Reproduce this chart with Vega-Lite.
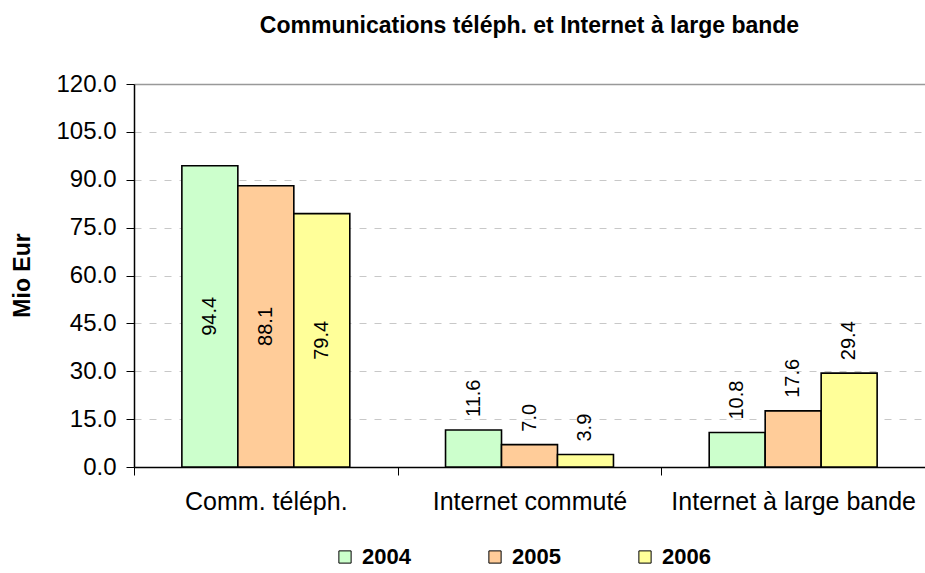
{
  "$schema": "https://vega.github.io/schema/vega-lite/v6.json",
  "width": 791,
  "height": 383,
  "autosize": {"type": "none"},
  "padding": {"left": 134, "top": 84, "right": 0, "bottom": 106},
  "background": "white",
  "config": {"font": "Liberation Sans", "view": {"stroke": null}},
  "title": {
    "text": "Communications téléph. et Internet à large bande",
    "fontSize": 23,
    "fontWeight": "bold",
    "color": "black",
    "anchor": "middle",
    "frame": "group",
    "offset": 34
  },
  "data": {
    "values": [
      {"cat": "Comm. téléph.", "year": "2004", "value": 94.4},
      {"cat": "Comm. téléph.", "year": "2005", "value": 88.1},
      {"cat": "Comm. téléph.", "year": "2006", "value": 79.4},
      {"cat": "Internet commuté", "year": "2004", "value": 11.6},
      {"cat": "Internet commuté", "year": "2005", "value": 7.0},
      {"cat": "Internet commuté", "year": "2006", "value": 3.9},
      {"cat": "Internet à large bande", "year": "2004", "value": 10.8},
      {"cat": "Internet à large bande", "year": "2005", "value": 17.6},
      {"cat": "Internet à large bande", "year": "2006", "value": 29.4}
    ]
  },
  "encoding": {
    "x": {
      "field": "cat",
      "type": "nominal",
      "sort": ["Comm. téléph.", "Internet commuté", "Internet à large bande"],
      "scale": {"paddingInner": 0, "paddingOuter": 0},
      "axis": {
        "title": null,
        "labelAngle": 0,
        "labelFontSize": 25,
        "labelColor": "black",
        "labelPadding": 14,
        "labelLimit": 0,
        "domainColor": "black",
        "domainWidth": 1.5,
        "tickColor": "black",
        "tickSize": 8,
        "tickWidth": 1,
        "tickBand": "extent",
        "grid": false
      }
    },
    "xOffset": {
      "field": "year",
      "type": "nominal",
      "scale": {"paddingInner": 0, "paddingOuter": 0.855}
    }
  },
  "layer": [
    {
      "mark": {"type": "bar", "stroke": "black", "strokeWidth": 1.6},
      "encoding": {
        "y": {
          "field": "value",
          "type": "quantitative",
          "scale": {"domain": [0, 120], "nice": false},
          "axis": {
            "values": [0, 15, 30, 45, 60, 75, 90, 105, 120],
            "format": ".1f",
            "labelFontSize": 24,
            "labelColor": "black",
            "labelPadding": 10,
            "domainColor": "black",
            "domainWidth": 1.5,
            "tickColor": "black",
            "tickSize": 8,
            "grid": true,
            "gridColor": {"condition": {"test": "datum.value === 120", "value": "#999999"}, "value": "#c8c8c8"},
            "gridDash": {"condition": {"test": "datum.value === 120", "value": []}, "value": [7, 8]},
            "gridWidth": {"condition": {"test": "datum.value === 120", "value": 1.5}, "value": 1},
            "title": "Mio Eur",
            "titleFontSize": 23,
            "titleFontWeight": "bold",
            "titleColor": "black",
            "titleAngle": -90,
            "titleX": -112,
            "titleY": 191,
            "titleAlign": "center",
            "titleBaseline": "middle"
          }
        },
        "color": {
          "field": "year",
          "type": "nominal",
          "scale": {"domain": ["2004", "2005", "2006"], "range": ["#CCFFCC", "#FFCC99", "#FFFF99"]},
          "legend": {
            "orient": "none",
            "legendX": 200,
            "legendY": 462,
            "direction": "horizontal",
            "title": null,
            "symbolType": "square",
            "symbolSize": 150,
            "symbolStrokeColor": "black",
            "symbolStrokeWidth": 1,
            "labelFontSize": 22,
            "labelFontWeight": "bold",
            "labelColor": "black",
            "labelOffset": 6,
            "columnPadding": 73
          }
        }
      }
    },
    {
      "transform": [{"filter": "datum.cat !== 'Comm. téléph.'"}],
      "mark": {"type": "text", "angle": 270, "align": "left", "baseline": "middle", "dx": 13, "fontSize": 20, "color": "black"},
      "encoding": {
        "y": {"field": "value", "type": "quantitative", "scale": {"domain": [0, 120], "nice": false}, "axis": null},
        "text": {"field": "value", "type": "quantitative", "format": ".1f"}
      }
    },
    {
      "transform": [{"filter": "datum.cat === 'Comm. téléph.'"}],
      "mark": {"type": "text", "angle": 270, "align": "center", "baseline": "middle", "fontSize": 20, "color": "black"},
      "encoding": {
        "y": {"field": "value", "type": "quantitative", "scale": {"domain": [0, 240], "nice": false}, "axis": null},
        "text": {"field": "value", "type": "quantitative", "format": ".1f"}
      }
    }
  ],
  "resolve": {"scale": {"y": "independent"}}
}
